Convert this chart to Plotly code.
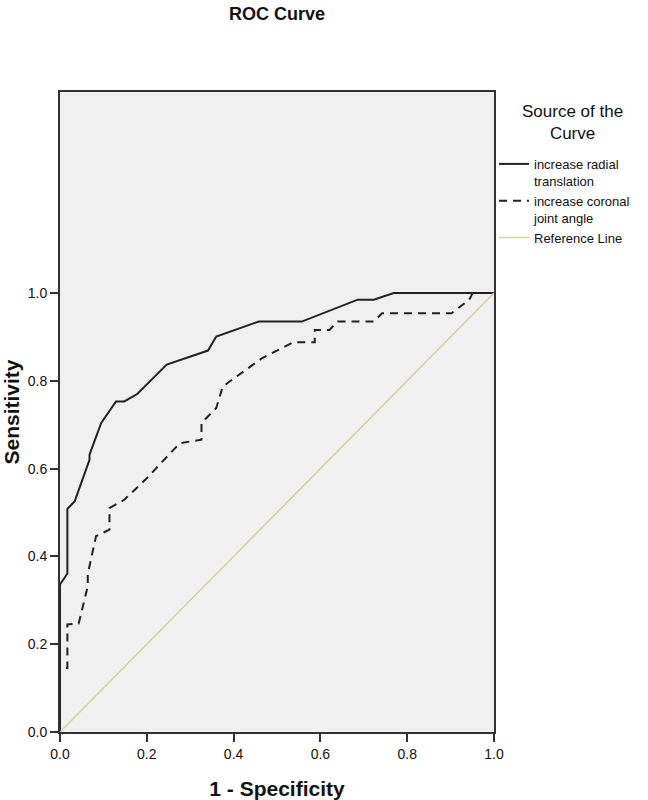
import plotly.graph_objects as go

# Solid: increase radial translation
radial_fpr = [0.0, 0.0, 0.017, 0.017, 0.034, 0.064, 0.068, 0.068, 0.095, 0.129, 0.148, 0.178,
              0.246, 0.341, 0.36, 0.458, 0.557, 0.686, 0.723, 0.769, 1.0]
radial_tpr = [0.0, 0.336, 0.361, 0.508, 0.526, 0.605, 0.62, 0.632, 0.704, 0.753, 0.753, 0.77,
              0.837, 0.869, 0.901, 0.935, 0.935, 0.985, 0.985, 1.0, 1.0]

# Dashed: increase coronal joint angle
coronal_fpr = [0.0, 0.0, 0.017, 0.017, 0.043, 0.064, 0.064, 0.083, 0.114, 0.114, 0.148, 0.197,
               0.276, 0.326, 0.326, 0.36, 0.375, 0.466, 0.538, 0.587, 0.587, 0.621, 0.64,
               0.723, 0.742, 0.902, 0.943, 0.951, 1.0]
coronal_tpr = [0.0, 0.146, 0.146, 0.245, 0.247, 0.332, 0.36, 0.446, 0.461, 0.51, 0.529, 0.575,
               0.658, 0.666, 0.704, 0.738, 0.787, 0.852, 0.888, 0.888, 0.916, 0.916, 0.935,
               0.935, 0.954, 0.954, 0.985, 1.0, 1.0]

ref_x = [0.0, 1.0]
ref_y = [0.0, 1.0]

x_ticks = [0.0, 0.2, 0.4, 0.6, 0.8, 1.0]
y_ticks = [0.0, 0.2, 0.4, 0.6, 0.8, 1.0]
tick_text = ["0.0", "0.2", "0.4", "0.6", "0.8", "1.0"]

series_names = ["increase radial<br>translation", "increase coronal<br>joint angle", "Reference Line"]
legend_title = "Source of the<br>Curve"

FONT = "Arial, Liberation Sans, sans-serif"

fig = go.Figure()
fig.add_trace(go.Scatter(x=radial_fpr, y=radial_tpr, mode="lines",
                         name=series_names[0],
                         line=dict(color="#222222", width=2)))
fig.add_trace(go.Scatter(x=coronal_fpr, y=coronal_tpr, mode="lines",
                         name=series_names[1],
                         line=dict(color="#222222", width=2, dash="8px,6px")))
fig.add_trace(go.Scatter(x=ref_x, y=ref_y, mode="lines",
                         name=series_names[2],
                         line=dict(color="#d4d1a4", width=1.5)))

fig.add_annotation(text=legend_title, x=1.1818, y=0.9516, xref="paper", yref="paper",
                   xanchor="center", yanchor="middle", align="center", showarrow=False,
                   font=dict(size=17, family=FONT, color="#111111"))

fig.update_layout(
    width=648, height=800,
    margin=dict(l=60, r=148, t=92, b=68),
    paper_bgcolor="white",
    plot_bgcolor="#f0f0f0",
    font=dict(family=FONT, size=14, color="#111111"),
    title=dict(text="<b>ROC Curve</b>", x=0.5, xref="paper", xanchor="center",
               y=1 - 14 / 800, yref="container", yanchor="middle",
               font=dict(size=18, family=FONT, color="#111111")),
    showlegend=True,
    legend=dict(x=1.0, xref="paper", xanchor="left", y=0.911, yanchor="top",
                valign="top", bgcolor="rgba(0,0,0,0)",
                font=dict(size=13, family=FONT), tracegroupgap=0,
                itemwidth=30),
    xaxis=dict(range=[0, 1], tickvals=x_ticks, ticktext=tick_text, automargin=False,
               showgrid=False, zeroline=False, showline=True, linecolor="#333333",
               linewidth=2, mirror=True, ticks="outside", ticklen=8, tickcolor="#333333",
               tickwidth=2,
               title=dict(text="<b>1 - Specificity</b>", font=dict(size=21, family=FONT),
                          standoff=21)),
    yaxis=dict(range=[0, 1.458], tickvals=y_ticks, ticktext=tick_text, automargin=False,
               showgrid=False, zeroline=False, showline=True, linecolor="#333333",
               linewidth=2, mirror=True, ticks="outside", ticklen=8, tickcolor="#333333",
               tickwidth=2,
               title=dict(text="<b>Sensitivity</b>", font=dict(size=21, family=FONT),
                          standoff=5)),
)

fig.write_html("out.html", config={"displayModeBar": False},
               post_script="document.body.style.margin='0';document.body.style.overflow='hidden';")
